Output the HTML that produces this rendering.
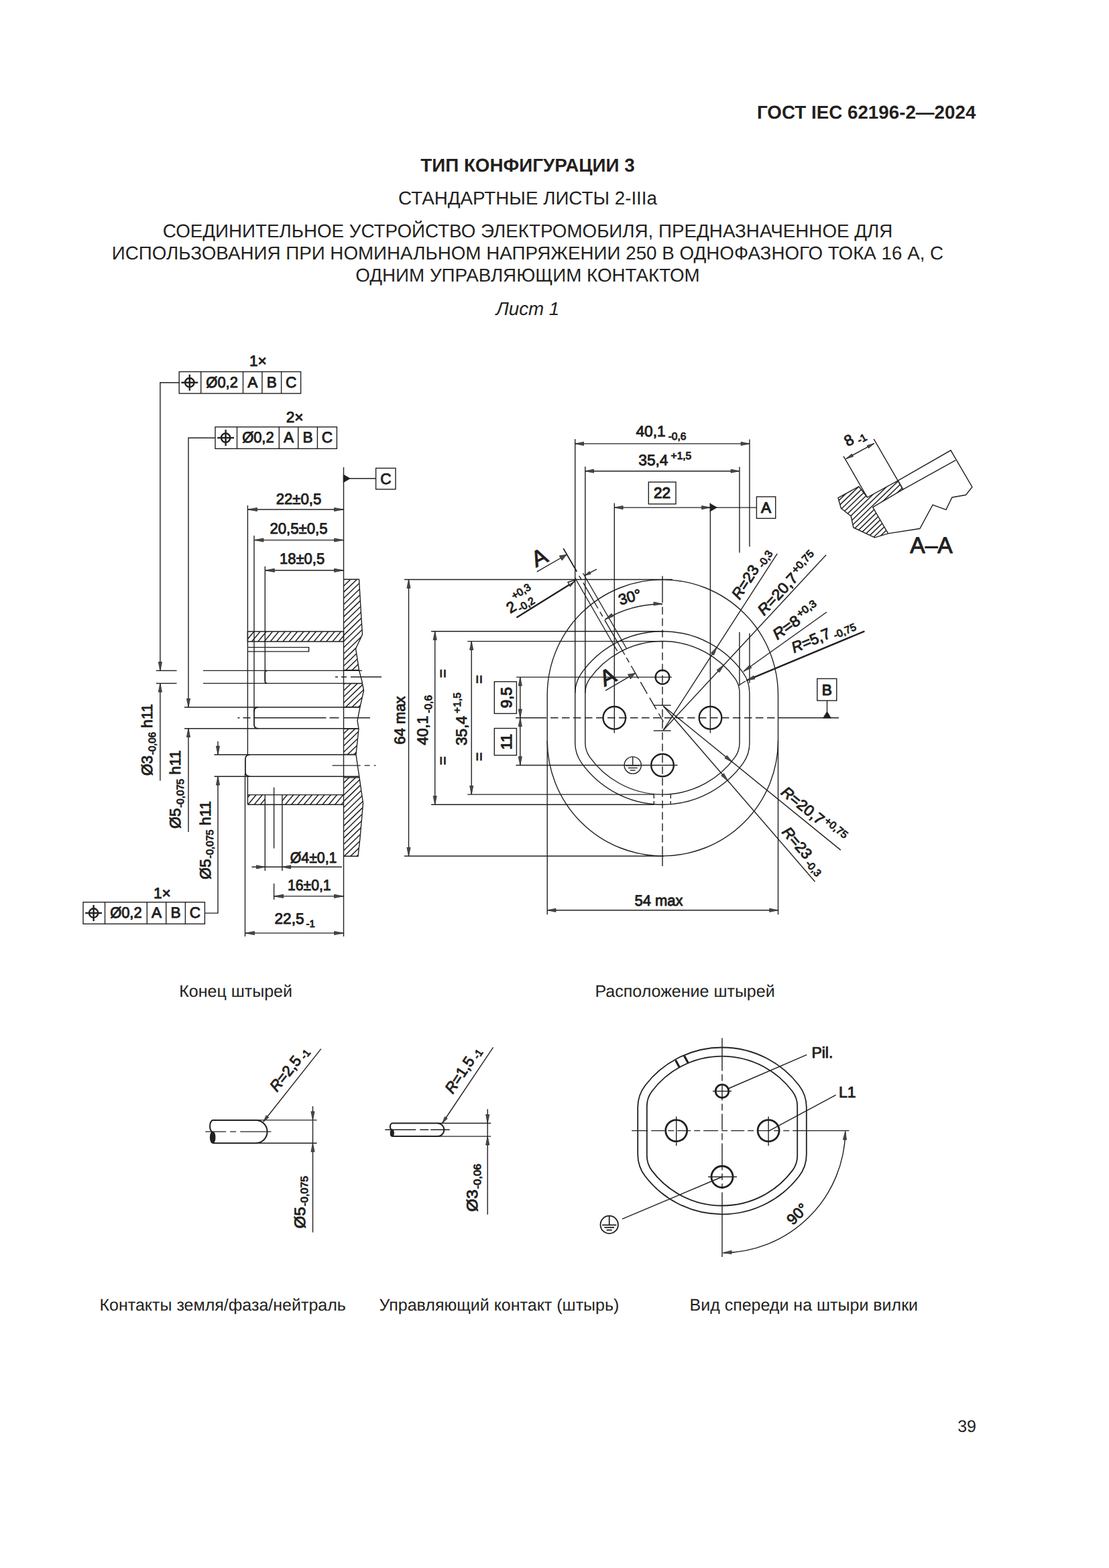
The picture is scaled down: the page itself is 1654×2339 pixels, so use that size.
<!DOCTYPE html>
<html lang="ru"><head><meta charset="utf-8"><title>ГОСТ IEC 62196-2—2024</title>
<style>
html,body{margin:0;padding:0;background:#fff}
svg{display:block}
text{font-family:"Liberation Sans","DejaVu Sans",sans-serif;fill:#231f20;white-space:pre;text-rendering:geometricPrecision}
.b{font-size:27.78px}
.bb{font-size:27.78px;font-weight:bold}
.bi{font-size:27.78px;font-style:italic}
.c{font-size:25px}
.d{font-size:22.6px;stroke:#231f20;stroke-width:.95px;stroke-linejoin:round}
.di{font-style:italic}
.A{stroke-width:1.1px}
.B{stroke-width:1.2px}
line,polyline,polygon,path,circle,rect,ellipse{fill:none;stroke:#231f20;stroke-width:1.4px}
.k{stroke-width:2.4px}
.kk{stroke-width:2.8px}
.p{stroke-width:2px}
.s3{stroke-width:3.2px}
.m{stroke-width:1.8px}
.h{stroke-width:1.5px}
.ah{fill:#4a4747;stroke:#231f20;stroke-width:.7px;stroke-linejoin:miter}
.fl{fill:#231f20}
.cl{stroke-dasharray:26 5 5 5}
.cs{stroke-dasharray:14 4 3 4}
.ds{stroke-dasharray:6 4}
</style></head>
<body>
<svg width="1654" height="2339" viewBox="0 0 1654 2339">
<text class="bb" text-anchor="end" x="1455.4" y="177">ГОСТ IEC 62196-2—2024</text>
<text class="bb" text-anchor="middle" x="787" y="256">ТИП КОНФИГУРАЦИИ 3</text>
<text class="b" text-anchor="middle" x="787" y="304.7">СТАНДАРТНЫЕ ЛИСТЫ 2-IIIa</text>
<text class="b" text-anchor="middle" x="787" y="353.5">СОЕДИНИТЕЛЬНОЕ УСТРОЙСТВО ЭЛЕКТРОМОБИЛЯ, ПРЕДНАЗНАЧЕННОЕ ДЛЯ</text>
<text class="b" text-anchor="middle" x="787" y="387">ИСПОЛЬЗОВАНИЯ ПРИ НОМИНАЛЬНОМ НАПРЯЖЕНИИ 250 В ОДНОФАЗНОГО ТОКА 16 А, С</text>
<text class="b" text-anchor="middle" x="787" y="420.1">ОДНИМ УПРАВЛЯЮЩИМ КОНТАКТОМ</text>
<text class="bi" text-anchor="middle" x="787" y="470">Лист 1</text>
<text class="c" x="267.3" y="1487.2">Конец штырей</text>
<text class="c" x="887.5" y="1487.2">Расположение штырей</text>
<text class="c" x="148.5" y="1954.7">Контакты земля/фаза/нейтраль</text>
<text class="c" x="565.5" y="1954.7">Управляющий контакт (штырь)</text>
<text class="c" x="1028.5" y="1954.7">Вид спереди на штыри вилки</text>
<text class="c" text-anchor="end" x="1456" y="2135.7">39</text>
<rect x="267.2" y="554.5" width="181.4" height="32.4"/>
<line x1="299.7" y1="554.5" x2="299.7" y2="586.9"/>
<line x1="362.5" y1="554.5" x2="362.5" y2="586.9"/>
<line x1="390.9" y1="554.5" x2="390.9" y2="586.9"/>
<line x1="419.6" y1="554.5" x2="419.6" y2="586.9"/>
<circle cx="282.8" cy="570.7" r="6.7" class="k"/>
<line x1="270.4" y1="570.7" x2="295.2" y2="570.7" class="k"/>
<line x1="282.8" y1="558.7" x2="282.8" y2="582.7" class="k"/>
<text class="d" text-anchor="middle" textLength="47.5" lengthAdjust="spacingAndGlyphs" x="331.1" y="577.5">Ø0,2</text>
<text class="d" text-anchor="middle" x="376.7" y="577.5">A</text>
<text class="d" text-anchor="middle" x="405.2" y="577.5">B</text>
<text class="d" text-anchor="middle" x="434.1" y="577.5">C</text>
<text class="d" text-anchor="middle" x="384.8" y="546.3">1×</text>
<rect x="321" y="636.9" width="181.4" height="32.4"/>
<line x1="353.5" y1="636.9" x2="353.5" y2="669.3"/>
<line x1="416.3" y1="636.9" x2="416.3" y2="669.3"/>
<line x1="444.7" y1="636.9" x2="444.7" y2="669.3"/>
<line x1="473.4" y1="636.9" x2="473.4" y2="669.3"/>
<circle cx="336.6" cy="653.1" r="6.7" class="k"/>
<line x1="324.2" y1="653.1" x2="349" y2="653.1" class="k"/>
<line x1="336.6" y1="641.1" x2="336.6" y2="665.1" class="k"/>
<text class="d" text-anchor="middle" textLength="47.5" lengthAdjust="spacingAndGlyphs" x="384.9" y="659.9">Ø0,2</text>
<text class="d" text-anchor="middle" x="430.5" y="659.9">A</text>
<text class="d" text-anchor="middle" x="459" y="659.9">B</text>
<text class="d" text-anchor="middle" x="487.9" y="659.9">C</text>
<text class="d" text-anchor="middle" x="439.6" y="630">2×</text>
<rect x="124" y="1345.8" width="181.4" height="32.4"/>
<line x1="156.5" y1="1345.8" x2="156.5" y2="1378.2"/>
<line x1="219.3" y1="1345.8" x2="219.3" y2="1378.2"/>
<line x1="247.7" y1="1345.8" x2="247.7" y2="1378.2"/>
<line x1="276.4" y1="1345.8" x2="276.4" y2="1378.2"/>
<circle cx="139.6" cy="1362" r="6.7" class="k"/>
<line x1="127.2" y1="1362" x2="152" y2="1362" class="k"/>
<line x1="139.6" y1="1350" x2="139.6" y2="1374" class="k"/>
<text class="d" text-anchor="middle" textLength="47.5" lengthAdjust="spacingAndGlyphs" x="187.9" y="1368.8">Ø0,2</text>
<text class="d" text-anchor="middle" x="233.5" y="1368.8">A</text>
<text class="d" text-anchor="middle" x="262.1" y="1368.8">B</text>
<text class="d" text-anchor="middle" x="290.9" y="1368.8">C</text>
<text class="d" text-anchor="middle" x="241.8" y="1339.5">1×</text>
<polyline points="267.2,570.7 238.9,570.7 238.9,1000.4"/>
<polygon points="238.9,1000.4 236.3,987.6 241.5,987.6" class="ah"/>
<line x1="238.9" y1="1019.4" x2="238.9" y2="1164.4"/>
<polygon points="238.9,1019.4 241.5,1032.2 236.3,1032.2" class="ah"/>
<line x1="232.8" y1="1000.4" x2="263.5" y2="1000.4"/>
<line x1="232.8" y1="1019.4" x2="263.5" y2="1019.4"/>
<polyline points="321,653.2 281,653.2 281,1055"/>
<polygon points="281,1055 278.4,1042.2 283.6,1042.2" class="ah"/>
<line x1="281" y1="1086.6" x2="281" y2="1241"/>
<polygon points="281,1086.6 283.6,1099.4 278.4,1099.4" class="ah"/>
<polyline points="305.4,1362.1 325,1362.1 325,1158.2"/>
<polygon points="325,1158.2 327.6,1171 322.4,1171" class="ah"/>
<line x1="325" y1="1106" x2="325" y2="1125.8"/>
<polygon points="325,1125.8 322.4,1113 327.6,1113" class="ah"/>
<line x1="512.5" y1="697" x2="512.5" y2="1397"/>
<polygon points="512.5,708.6 521.5,713.8 512.5,719" class="fl"/>
<line x1="521.5" y1="713.8" x2="560.6" y2="713.8"/>
<rect x="560.6" y="698.4" width="29.4" height="31.4"/>
<text class="d" text-anchor="middle" x="575.3" y="721.8">C</text>
<line x1="369.4" y1="754" x2="369.4" y2="1125.8"/>
<line x1="369.4" y1="1158.2" x2="369.4" y2="1200"/>
<line x1="379" y1="799" x2="379" y2="1062"/>
<line x1="395.3" y1="845" x2="395.3" y2="1016"/>
<line x1="369.4" y1="760" x2="512.5" y2="760"/>
<polygon points="369.4,760 383.4,757.4 383.4,762.6" class="ah"/>
<polygon points="512.5,760 498.5,762.6 498.5,757.4" class="ah"/>
<text class="d" text-anchor="middle" textLength="67.7" lengthAdjust="spacingAndGlyphs" x="445.5" y="751.7">22±0,5</text>
<line x1="379" y1="805.6" x2="512.5" y2="805.6"/>
<polygon points="379,805.6 393,803 393,808.2" class="ah"/>
<polygon points="512.5,805.6 498.5,808.2 498.5,803" class="ah"/>
<text class="d" text-anchor="middle" textLength="86.2" lengthAdjust="spacingAndGlyphs" x="445.5" y="795.7">20,5±0,5</text>
<line x1="395.3" y1="850.8" x2="512.5" y2="850.8"/>
<polygon points="395.3,850.8 409.3,848.2 409.3,853.4" class="ah"/>
<polygon points="512.5,850.8 498.5,853.4 498.5,848.2" class="ah"/>
<text class="d" text-anchor="middle" textLength="67.1" lengthAdjust="spacingAndGlyphs" x="450.6" y="841">18±0,5</text>
<clipPath id="w0"><path d="M512.5 864.3H535.5L538.4 913.7L540.5 946.3L530.6 967.5L535.5 999.6H512.5Z"/></clipPath>
<path d="M110.3 1244.3L716.8 658.6M114.9 1249L721.4 663.4M119.5 1253.8L725.9 668.1M124.1 1258.5L730.5 672.9M128.6 1263.3L735.1 677.6M133.2 1268L739.7 682.4M137.8 1272.8L744.3 687.1M142.4 1277.5L748.9 691.9M147 1282.3L753.4 696.6M151.6 1287L758 701.4M156.2 1291.8L762.6 706.1M160.7 1296.5L767.2 710.9M165.3 1301.3L771.8 715.6M169.9 1306L776.4 720.4M174.5 1310.8L781 725.1M179.1 1315.5L785.5 729.9M183.7 1320.3L790.1 734.6M188.2 1325L794.7 739.4M192.8 1329.8L799.3 744.1M197.4 1334.5L803.9 748.9M202 1339.3L808.5 753.6M206.6 1344L813 758.3M211.2 1348.7L817.6 763.1M215.8 1353.5L822.2 767.8M220.3 1358.2L826.8 772.6M224.9 1363L831.4 777.3M229.5 1367.7L836 782.1M234.1 1372.5L840.6 786.8M238.7 1377.2L845.1 791.6M243.3 1382L849.7 796.3M247.9 1386.7L854.3 801.1M252.4 1391.5L858.9 805.8M257 1396.2L863.5 810.6M261.6 1401L868.1 815.3M266.2 1405.7L872.7 820.1M270.8 1410.5L877.2 824.8M275.4 1415.2L881.8 829.6M279.9 1420L886.4 834.3M284.5 1424.7L891 839.1M289.1 1429.5L895.6 843.8M293.7 1434.2L900.2 848.6M298.3 1439L904.7 853.3M302.9 1443.7L909.3 858M307.5 1448.4L913.9 862.8M312 1453.2L918.5 867.5M316.6 1457.9L923.1 872.3M321.2 1462.7L927.7 877M325.8 1467.4L932.3 881.8M330.4 1472.2L936.8 886.5M335 1476.9L941.4 891.3M339.5 1481.7L946 896" class="h" clip-path="url(#w0)"/>
<clipPath id="w1"><path d="M512.5 1019.6H540.5L542.5 1030L537 1054.6H512.5Z"/></clipPath>
<path d="M110.3 1244.3L716.8 658.6M114.9 1249L721.4 663.4M119.5 1253.8L725.9 668.1M124.1 1258.5L730.5 672.9M128.6 1263.3L735.1 677.6M133.2 1268L739.7 682.4M137.8 1272.8L744.3 687.1M142.4 1277.5L748.9 691.9M147 1282.3L753.4 696.6M151.6 1287L758 701.4M156.2 1291.8L762.6 706.1M160.7 1296.5L767.2 710.9M165.3 1301.3L771.8 715.6M169.9 1306L776.4 720.4M174.5 1310.8L781 725.1M179.1 1315.5L785.5 729.9M183.7 1320.3L790.1 734.6M188.2 1325L794.7 739.4M192.8 1329.8L799.3 744.1M197.4 1334.5L803.9 748.9M202 1339.3L808.5 753.6M206.6 1344L813 758.3M211.2 1348.7L817.6 763.1M215.8 1353.5L822.2 767.8M220.3 1358.2L826.8 772.6M224.9 1363L831.4 777.3M229.5 1367.7L836 782.1M234.1 1372.5L840.6 786.8M238.7 1377.2L845.1 791.6M243.3 1382L849.7 796.3M247.9 1386.7L854.3 801.1M252.4 1391.5L858.9 805.8M257 1396.2L863.5 810.6M261.6 1401L868.1 815.3M266.2 1405.7L872.7 820.1M270.8 1410.5L877.2 824.8M275.4 1415.2L881.8 829.6M279.9 1420L886.4 834.3M284.5 1424.7L891 839.1M289.1 1429.5L895.6 843.8M293.7 1434.2L900.2 848.6M298.3 1439L904.7 853.3M302.9 1443.7L909.3 858M307.5 1448.4L913.9 862.8M312 1453.2L918.5 867.5M316.6 1457.9L923.1 872.3M321.2 1462.7L927.7 877M325.8 1467.4L932.3 881.8M330.4 1472.2L936.8 886.5M335 1476.9L941.4 891.3M339.5 1481.7L946 896" class="h" clip-path="url(#w1)"/>
<clipPath id="w2"><path d="M512.5 1087H535L531 1125.4H512.5Z"/></clipPath>
<path d="M110.3 1244.3L716.8 658.6M114.9 1249L721.4 663.4M119.5 1253.8L725.9 668.1M124.1 1258.5L730.5 672.9M128.6 1263.3L735.1 677.6M133.2 1268L739.7 682.4M137.8 1272.8L744.3 687.1M142.4 1277.5L748.9 691.9M147 1282.3L753.4 696.6M151.6 1287L758 701.4M156.2 1291.8L762.6 706.1M160.7 1296.5L767.2 710.9M165.3 1301.3L771.8 715.6M169.9 1306L776.4 720.4M174.5 1310.8L781 725.1M179.1 1315.5L785.5 729.9M183.7 1320.3L790.1 734.6M188.2 1325L794.7 739.4M192.8 1329.8L799.3 744.1M197.4 1334.5L803.9 748.9M202 1339.3L808.5 753.6M206.6 1344L813 758.3M211.2 1348.7L817.6 763.1M215.8 1353.5L822.2 767.8M220.3 1358.2L826.8 772.6M224.9 1363L831.4 777.3M229.5 1367.7L836 782.1M234.1 1372.5L840.6 786.8M238.7 1377.2L845.1 791.6M243.3 1382L849.7 796.3M247.9 1386.7L854.3 801.1M252.4 1391.5L858.9 805.8M257 1396.2L863.5 810.6M261.6 1401L868.1 815.3M266.2 1405.7L872.7 820.1M270.8 1410.5L877.2 824.8M275.4 1415.2L881.8 829.6M279.9 1420L886.4 834.3M284.5 1424.7L891 839.1M289.1 1429.5L895.6 843.8M293.7 1434.2L900.2 848.6M298.3 1439L904.7 853.3M302.9 1443.7L909.3 858M307.5 1448.4L913.9 862.8M312 1453.2L918.5 867.5M316.6 1457.9L923.1 872.3M321.2 1462.7L927.7 877M325.8 1467.4L932.3 881.8M330.4 1472.2L936.8 886.5M335 1476.9L941.4 891.3M339.5 1481.7L946 896" class="h" clip-path="url(#w2)"/>
<clipPath id="w3"><path d="M512.5 1159.9H536L541.5 1198L537 1250L534 1277.3H512.5Z"/></clipPath>
<path d="M110.3 1244.3L716.8 658.6M114.9 1249L721.4 663.4M119.5 1253.8L725.9 668.1M124.1 1258.5L730.5 672.9M128.6 1263.3L735.1 677.6M133.2 1268L739.7 682.4M137.8 1272.8L744.3 687.1M142.4 1277.5L748.9 691.9M147 1282.3L753.4 696.6M151.6 1287L758 701.4M156.2 1291.8L762.6 706.1M160.7 1296.5L767.2 710.9M165.3 1301.3L771.8 715.6M169.9 1306L776.4 720.4M174.5 1310.8L781 725.1M179.1 1315.5L785.5 729.9M183.7 1320.3L790.1 734.6M188.2 1325L794.7 739.4M192.8 1329.8L799.3 744.1M197.4 1334.5L803.9 748.9M202 1339.3L808.5 753.6M206.6 1344L813 758.3M211.2 1348.7L817.6 763.1M215.8 1353.5L822.2 767.8M220.3 1358.2L826.8 772.6M224.9 1363L831.4 777.3M229.5 1367.7L836 782.1M234.1 1372.5L840.6 786.8M238.7 1377.2L845.1 791.6M243.3 1382L849.7 796.3M247.9 1386.7L854.3 801.1M252.4 1391.5L858.9 805.8M257 1396.2L863.5 810.6M261.6 1401L868.1 815.3M266.2 1405.7L872.7 820.1M270.8 1410.5L877.2 824.8M275.4 1415.2L881.8 829.6M279.9 1420L886.4 834.3M284.5 1424.7L891 839.1M289.1 1429.5L895.6 843.8M293.7 1434.2L900.2 848.6M298.3 1439L904.7 853.3M302.9 1443.7L909.3 858M307.5 1448.4L913.9 862.8M312 1453.2L918.5 867.5M316.6 1457.9L923.1 872.3M321.2 1462.7L927.7 877M325.8 1467.4L932.3 881.8M330.4 1472.2L936.8 886.5M335 1476.9L941.4 891.3M339.5 1481.7L946 896" class="h" clip-path="url(#w3)"/>
<path d="M512.5 864.3H535.5L538.4 913.7L540.5 946.3L530.6 967.5L535.5 999.6L539.8 1016L540.5 1019.6L542.5 1030L537 1054.6L533 1075L535 1087L531 1125.4L533 1140L536 1159.9L541.5 1198L537 1250L534 1277.3H512.5"/>
<line x1="512.5" y1="999.6" x2="535.5" y2="999.6"/>
<line x1="512.5" y1="1019.6" x2="540.5" y2="1019.6"/>
<line x1="512.5" y1="1054.6" x2="537" y2="1054.6"/>
<line x1="512.5" y1="1087" x2="535" y2="1087"/>
<line x1="512.5" y1="1125.4" x2="531" y2="1125.4"/>
<line x1="512.5" y1="1159.9" x2="536" y2="1159.9"/>
<clipPath id="tb"><path d="M369.4 942H512.5V957H369.4Z"/></clipPath>
<path d="M296.9 1017.6L483 795.7M302.3 1022.1L488.4 800.3M307.8 1026.7L493.9 804.9M313.2 1031.3L499.3 809.4M318.6 1035.8L504.8 814M324.1 1040.4L510.2 818.6M329.5 1044.9L515.6 823.1M335 1049.5L521.1 827.7M340.4 1054.1L526.5 832.3M345.8 1058.6L532 836.8M351.3 1063.2L537.4 841.4M356.7 1067.8L542.8 846M362.1 1072.3L548.3 850.5M367.6 1076.9L553.7 855.1M373 1081.5L559.1 859.6M378.5 1086L564.6 864.2M383.9 1090.6L570 868.8M389.3 1095.1L575.5 873.3M394.8 1099.7L580.9 877.9" class="h" clip-path="url(#tb)"/>
<path d="M369.4 942H512.5V957H369.4Z"/>
<polyline points="369.4,965.6 460.6,965.6 460.6,971.9 369.4,971.9"/>
<path d="M303 1000.4H540M303 1019.4H541M540 1000.4"/>
<path d="M398.3 1000.4Q395.3 1000.4 395.3 1003.4V1016.4Q395.3 1019.4 398.3 1019.4" class="m"/>
<line x1="500" y1="1009.8" x2="569" y2="1009.8" stroke-dasharray="4 5 8 6 60"/>
<path d="M275 1055H537M275 1086.7H535"/>
<path d="M385 1055Q379 1055 379 1061V1080.7Q379 1086.7 385 1086.7" class="m"/>
<line x1="354.5" y1="1070.8" x2="552" y2="1070.8" stroke-dasharray="3 5 11 5 108 5 14 7 60"/>
<path d="M319.5 1125.8H531M319.5 1158.2H536"/>
<path d="M372.5 1125.8Q365.9 1125.8 365.9 1132.4V1151.6Q365.9 1158.2 372.5 1158.2" class="m"/>
<line x1="495.6" y1="1141.9" x2="564.5" y2="1141.9" stroke-dasharray="42 6 8 6 3 6"/>
<clipPath id="bb1"><path d="M369.4 1185.6H395.3V1200.2H369.4Z"/></clipPath>
<path d="M347.6 1204.7L387.9 1156.6M353 1209.2L393.4 1161.1M358.5 1213.8L398.8 1165.7M363.9 1218.4L404.2 1170.3M369.3 1222.9L409.7 1174.8M374.8 1227.5L415.1 1179.4" class="h" clip-path="url(#bb1)"/>
<clipPath id="bb2"><path d="M420.9 1185.6H512.5V1200.2H420.9Z"/></clipPath>
<path d="M374.4 1238.9L495.7 1094.4M379.9 1243.5L501.2 1098.9M385.3 1248.1L506.6 1103.5M390.7 1252.6L512.1 1108M396.2 1257.2L517.5 1112.6M401.6 1261.8L522.9 1117.2M407.1 1266.3L528.4 1121.7M412.5 1270.9L533.8 1126.3M417.9 1275.4L539.3 1130.9M423.4 1280L544.7 1135.4M428.8 1284.6L550.1 1140M434.3 1289.1L555.6 1144.6M439.7 1293.7L561 1149.1" class="h" clip-path="url(#bb2)"/>
<path d="M369.4 1185.6H512.5M369.4 1200.2H512.5"/>
<line x1="395.3" y1="1185.6" x2="395.3" y2="1299"/>
<line x1="420.9" y1="1185.6" x2="420.9" y2="1299"/>
<line x1="408.6" y1="1174.6" x2="408.6" y2="1265.5"/>
<line x1="365.5" y1="1154" x2="365.5" y2="1397"/>
<line x1="375.4" y1="1293.3" x2="509.9" y2="1293.3"/>
<polygon points="395.3,1293.3 382.5,1295.9 382.5,1290.7" class="ah"/>
<polygon points="420.9,1293.3 433.7,1290.7 433.7,1295.9" class="ah"/>
<text class="d" text-anchor="middle" textLength="69.7" lengthAdjust="spacingAndGlyphs" x="467.6" y="1286.5">Ø4±0,1</text>
<line x1="408.6" y1="1318" x2="408.6" y2="1342"/>
<line x1="408.6" y1="1336.9" x2="512.5" y2="1336.9"/>
<polygon points="408.6,1336.9 422.6,1334.3 422.6,1339.5" class="ah"/>
<polygon points="512.5,1336.9 498.5,1339.5 498.5,1334.3" class="ah"/>
<text class="d" text-anchor="middle" textLength="64.6" lengthAdjust="spacingAndGlyphs" x="461.3" y="1327.8">16±0,1</text>
<line x1="365.5" y1="1391.9" x2="512.5" y2="1391.9"/>
<polygon points="365.5,1391.9 379.5,1389.3 379.5,1394.5" class="ah"/>
<polygon points="512.5,1391.9 498.5,1394.5 498.5,1389.3" class="ah"/>
<text class="d" x="409.5" y="1378.3">22,5<tspan font-size="15" dy="5" dx="3">-1</tspan></text>
<text class="d" textLength="107" lengthAdjust="spacingAndGlyphs" transform="translate(227.1 1157) rotate(-90)">Ø3<tspan font-size="15" dy="4.5" dx="1">-0,06</tspan><tspan dy="-4.5"> h11</tspan></text>
<text class="d" textLength="117" lengthAdjust="spacingAndGlyphs" transform="translate(269 1236.1) rotate(-90)">Ø5<tspan font-size="15" dy="4.5" dx="1">-0,075</tspan><tspan dy="-4.5"> h11</tspan></text>
<text class="d" textLength="117" lengthAdjust="spacingAndGlyphs" transform="translate(313.9 1311.8) rotate(-90)">Ø5<tspan font-size="15" dy="4.5" dx="1">-0,075</tspan><tspan dy="-4.5"> h11</tspan></text>
<path d="M816.2 1036.7A172.1 172.1 0 0 1 1160.5 1036.7V1104.8A172.1 172.1 0 0 1 816.2 1104.8Z"/>
<path d="M867.2 1004.1A148.1 148.1 0 0 1 1108.2 1003.3A51.5 51.5 0 0 1 1117.9 1033.4L1117.9 1108.5A51.5 51.5 0 0 1 1108.2 1138.6A148.1 148.1 0 0 1 867.2 1137.8A51.5 51.5 0 0 1 857.7 1108L857.7 1033.9A51.5 51.5 0 0 1 867.2 1004.1Z"/>
<path d="M879.6 1012.3A133.2 133.2 0 0 1 1096.1 1011.9A36.7 36.7 0 0 1 1103 1033.4L1103 1108.2A36.7 36.7 0 0 1 1096.1 1129.7A133.2 133.2 0 0 1 879.6 1129.3A36.7 36.7 0 0 1 872.8 1107.9L872.8 1033.7A36.7 36.7 0 0 1 879.6 1012.3Z"/>
<circle cx="916.3" cy="1070.8" r="16.8" class="k"/>
<circle cx="1059.5" cy="1070.8" r="16.8" class="k"/>
<circle cx="988" cy="1141.5" r="16.8" class="k"/>
<circle cx="988" cy="1010.1" r="10.4" class="k"/>
<circle cx="943.7" cy="1141.5" r="12.6"/>
<line x1="943.7" y1="1128.9" x2="943.7" y2="1142"/>
<line x1="933.6" y1="1142" x2="953.8" y2="1142"/>
<line x1="936.8" y1="1145.5" x2="950.6" y2="1145.5"/>
<line x1="939.9" y1="1149.1" x2="947.5" y2="1149.1"/>
<line x1="769" y1="1070.8" x2="1251" y2="1070.8" stroke-dasharray="46 6 11.5 5.5 11.5 5.5 11.5 5.5 11.5 5.5 11.5 5.5 11.5 5.5 11.5 5.5 11.5 5.5 11.5 5.5 11.5 5.5 11.5 5.5 11.5 5.5 11.5 5.5 11.5 5.5 11.5 5.5 11.5 5.5 11.5 5.5 11.5 5.5 11.5 5.5 11.5 5.5 200"/>
<line x1="988" y1="859.2" x2="988" y2="1292" stroke-dasharray="40 6 11.5 5.5 11.5 5.5 11.5 5.5 11.5 5.5 11.5 5.5 11.5 5.5 11.5 5.5 11.5 5.5 11.5 5.5 11.5 5.5 11.5 5.5 11.5 5.5 11.5 5.5 11.5 5.5 11.5 5.5 11.5 5.5 11.5 5.5 11.5 5.5 11.5 5.5 11.5 5.5 11.5 5.5 200"/>
<line x1="974.8" y1="1052.1" x2="1000.6" y2="1052.1"/>
<line x1="974.8" y1="1090" x2="1000.6" y2="1090"/>
<line x1="603" y1="864.5" x2="1003" y2="864.5"/>
<line x1="603" y1="1277" x2="990" y2="1277"/>
<line x1="643.1" y1="941.8" x2="990" y2="941.8"/>
<line x1="643.1" y1="1200.3" x2="975.3" y2="1200.3"/>
<line x1="697.2" y1="956.6" x2="990" y2="956.6"/>
<line x1="697.2" y1="1185.1" x2="975.3" y2="1185.1"/>
<line x1="770" y1="1010.1" x2="1002" y2="1010.1"/>
<line x1="769.4" y1="1141.5" x2="1010.5" y2="1141.5"/>
<line x1="975.3" y1="1185.1" x2="975.3" y2="1200.3" class="ds"/>
<line x1="1000.3" y1="1185.1" x2="1000.3" y2="1200.3" class="ds"/>
<line x1="857.7" y1="655" x2="857.7" y2="1034"/>
<line x1="872.8" y1="696" x2="872.8" y2="1034"/>
<line x1="916.3" y1="750.5" x2="916.3" y2="1093.4"/>
<line x1="1059.4" y1="750.5" x2="1059.4" y2="1093.4"/>
<line x1="1117.9" y1="655.4" x2="1117.9" y2="815.5"/>
<line x1="1117.9" y1="944.8" x2="1117.9" y2="1019"/>
<line x1="1102.9" y1="696.5" x2="1102.9" y2="824.5"/>
<line x1="1102.9" y1="942.9" x2="1102.9" y2="1023"/>
<line x1="816.2" y1="1105" x2="816.2" y2="1364.2"/>
<line x1="1160.5" y1="1105" x2="1160.5" y2="1364.2"/>
<line x1="857.7" y1="661.9" x2="1117.9" y2="661.9"/>
<polygon points="857.7,661.9 870.5,659.3 870.5,664.5" class="ah"/>
<polygon points="1117.9,661.9 1105.1,664.5 1105.1,659.3" class="ah"/>
<text class="d" textLength="75" lengthAdjust="spacingAndGlyphs" x="948.5" y="650.8">40,1<tspan font-size="15.5" dy="5.5" dx="4">-0,6</tspan></text>
<line x1="872.8" y1="702.7" x2="1102.9" y2="702.7"/>
<polygon points="872.8,702.7 885.6,700.1 885.6,705.3" class="ah"/>
<polygon points="1102.9,702.7 1090.1,705.3 1090.1,700.1" class="ah"/>
<text class="d" textLength="79" lengthAdjust="spacingAndGlyphs" x="952.3" y="693.9">35,4<tspan font-size="15.5" dy="-8.6" dx="4">+1,5</tspan></text>
<rect x="967.3" y="719.1" width="40.7" height="32.7"/>
<text class="d B" text-anchor="middle" x="987.6" y="743.4">22</text>
<line x1="916.3" y1="757.1" x2="1059.4" y2="757.1"/>
<polygon points="916.3,757.1 929.1,754.5 929.1,759.7" class="ah"/>
<polygon points="1059.4,757.1 1046.6,759.7 1046.6,754.5" class="ah"/>
<polygon points="1059.4,751.8 1068.6,757.1 1059.4,762.4" class="fl"/>
<line x1="1068" y1="757.1" x2="1128.4" y2="757.1"/>
<rect x="1128.4" y="741" width="28.3" height="32.3"/>
<text class="d B" text-anchor="middle" x="1142.5" y="764.6">A</text>
<line x1="609.5" y1="864.5" x2="609.5" y2="1277"/>
<polygon points="609.5,864.5 612.1,877.3 606.9,877.3" class="ah"/>
<polygon points="609.5,1277 606.9,1264.2 612.1,1264.2" class="ah"/>
<text class="d" textLength="72.1" lengthAdjust="spacingAndGlyphs" transform="translate(603.6 1110.5) rotate(-90)">64 max</text>
<line x1="648.7" y1="941.8" x2="648.7" y2="1200.3"/>
<polygon points="648.7,941.8 651.3,954.6 646.1,954.6" class="ah"/>
<polygon points="648.7,1200.3 646.1,1187.5 651.3,1187.5" class="ah"/>
<text class="d" textLength="74.5" lengthAdjust="spacingAndGlyphs" transform="translate(638.1 1111.5) rotate(-90)">40,1<tspan font-size="15.5" dy="5.5" dx="4">-0,6</tspan></text>
<line x1="703.2" y1="956.6" x2="703.2" y2="1185.1"/>
<polygon points="703.2,956.6 705.8,969.4 700.6,969.4" class="ah"/>
<polygon points="703.2,1185.1 700.6,1172.3 705.8,1172.3" class="ah"/>
<text class="d" textLength="79" lengthAdjust="spacingAndGlyphs" transform="translate(695.8 1112.1) rotate(-90)">35,4<tspan font-size="15.5" dy="-8.6" dx="4">+1,5</tspan></text>
<text class="d" text-anchor="middle" transform="translate(668 1004.7) rotate(-90)">=</text>
<text class="d" text-anchor="middle" transform="translate(668 1134.6) rotate(-90)">=</text>
<text class="d" text-anchor="middle" transform="translate(722 1013.3) rotate(-90)">=</text>
<text class="d" text-anchor="middle" transform="translate(722 1128.6) rotate(-90)">=</text>
<line x1="775.8" y1="1010.1" x2="775.8" y2="1141.5"/>
<polygon points="775.8,1010.1 778.4,1022.9 773.2,1022.9" class="ah"/>
<polygon points="775.8,1070.8 773.2,1058 778.4,1058" class="ah"/>
<polygon points="775.8,1070.8 778.4,1083.6 773.2,1083.6" class="ah"/>
<polygon points="775.8,1141.5 773.2,1128.7 778.4,1128.7" class="ah"/>
<rect x="737.3" y="1016.8" width="33.1" height="47.6"/>
<text class="d B" text-anchor="middle" transform="translate(763.4 1040.6) rotate(-90)">9,5</text>
<rect x="737.3" y="1086.5" width="33.1" height="40.1"/>
<text class="d B" text-anchor="middle" transform="translate(763.4 1106.5) rotate(-90)">11</text>
<line x1="816.2" y1="1357.8" x2="1160.5" y2="1357.8"/>
<polygon points="816.2,1357.8 829,1355.2 829,1360.4" class="ah"/>
<polygon points="1160.5,1357.8 1147.7,1360.4 1147.7,1355.2" class="ah"/>
<text class="d" text-anchor="middle" textLength="72.1" lengthAdjust="spacingAndGlyphs" x="982.5" y="1351.4">54 max</text>
<line x1="989.3" y1="1089.2" x2="1159.2" y2="825.8"/>
<polygon points="1069.8,964.4 1064.7,977.2 1060.3,974.3" class="ah"/>
<text class="d" text-anchor="end" textLength="86" lengthAdjust="spacingAndGlyphs" transform="translate(1149.6 823.2) rotate(-57.2)"><tspan class="di">R</tspan>=23<tspan font-size="15.5" dy="4" dx="4">-0,3</tspan></text>
<line x1="989.3" y1="1089.2" x2="1232.1" y2="827.7"/>
<polygon points="1080.2,991.3 1072.9,1003 1069.1,999.4" class="ah"/>
<text class="d" text-anchor="end" textLength="119" lengthAdjust="spacingAndGlyphs" transform="translate(1220.6 832) rotate(-47.1)"><tspan class="di">R</tspan>=20,7<tspan font-size="15.5" dy="-8" dx="2">+0,75</tspan></text>
<line x1="989.3" y1="1053.2" x2="1253.9" y2="1268.1"/>
<polygon points="1093,1137.4 1080.9,1130.9 1084.2,1126.9" class="ah"/>
<text class="d" text-anchor="end" textLength="117" lengthAdjust="spacingAndGlyphs" transform="translate(1254.3 1257.8) rotate(39.1)"><tspan class="di">R</tspan>=20,7<tspan font-size="15.5" dy="-8" dx="2">+0,75</tspan></text>
<line x1="989.3" y1="1053.2" x2="1215.5" y2="1315.2"/>
<polygon points="1086.3,1165.6 1075.6,1157.1 1079.5,1153.7" class="ah"/>
<text class="d" text-anchor="end" textLength="85" lengthAdjust="spacingAndGlyphs" transform="translate(1220.9 1306.2) rotate(49.2)"><tspan class="di">R</tspan>=23<tspan font-size="15.5" dy="4" dx="4">-0,3</tspan></text>
<line x1="1233" y1="913" x2="1109" y2="1001.5"/>
<polygon points="1109,1001.5 1117.9,991.9 1120.9,996.2" class="ah"/>
<text class="d" text-anchor="end" textLength="79" lengthAdjust="spacingAndGlyphs" transform="translate(1223.5 909.2) rotate(324.5)"><tspan class="di">R</tspan>=8<tspan font-size="15.5" dy="-8" dx="2">+0,3</tspan></text>
<line x1="1289.4" y1="941.6" x2="1113.2" y2="1015.2" class="k"/>
<polygon points="1113.2,1015.2 1124,1007.9 1126,1012.7" class="ah"/>
<line x1="1103" y1="1021.5" x2="1112" y2="1016"/>
<text class="d" text-anchor="end" textLength="100" lengthAdjust="spacingAndGlyphs" transform="translate(1276.6 935.6) rotate(337.3)"><tspan class="di">R</tspan>=5,7<tspan font-size="15.5" dy="4" dx="4">-0,75</tspan></text>
<rect x="1218.8" y="1012.4" width="29" height="32.7"/>
<text class="d B" text-anchor="middle" x="1233.3" y="1036.5">B</text>
<line x1="1233.5" y1="1045.1" x2="1233.5" y2="1062.5"/>
<polygon points="1228.2,1070.8 1233.5,1062 1238.8,1070.8" class="fl"/>
<line x1="840.2" y1="818.1" x2="860.3" y2="852.8" class="m"/>
<line x1="863.8" y1="859" x2="989.4" y2="1076.5" stroke-dasharray="6 6 44 6 8 6 60 5 8 6 22 6 20 7 20 7 60"/>
<line x1="857.3" y1="861.5" x2="920.5" y2="971"/>
<line x1="869.5" y1="855" x2="934.5" y2="967.5"/>
<line x1="800.8" y1="852.8" x2="844.9" y2="827.5"/>
<polygon points="844.9,827.5 838.2,836 834.2,829" class="ah"/>
<text class="d A" style="font-size:33px" transform="translate(799.5 846.5) rotate(-26)">A</text>
<line x1="903" y1="1030.2" x2="947.1" y2="1004.4"/>
<polygon points="947.1,1004.4 940.4,1012.9 936.4,1005.9" class="ah"/>
<text class="d A" style="font-size:33px" transform="translate(901.5 1024.5) rotate(-26)">A</text>
<line x1="770.4" y1="921.2" x2="849.5" y2="872.1" class="k"/>
<line x1="849.5" y1="872.1" x2="857.8" y2="867.2"/>
<polygon points="858.5,864.8 847,868.5 850.5,874.5" fill="#fff"/>
<line x1="872.1" y1="858.4" x2="889.9" y2="849.1"/>
<polygon points="872.1,858.4 879.1,852.3 881.1,856.2" class="ah"/>
<text class="d" transform="translate(761 915.5) rotate(-31)">2</text>
<text class="d" transform="translate(766.7 894.6) rotate(-31)"><tspan font-size="15.5" dy="0">+0,3</tspan></text>
<text class="d" transform="translate(776 912.9) rotate(-31)"><tspan font-size="15.5" dy="0">-0,2</tspan></text>
<path d="M902.3 924.2A169.8 169.8 0 0 1 988 901"/>
<polygon points="988,901 974.9,903.1 975.1,897.9" class="ah"/>
<polygon points="902.3,924.2 912,915.1 914.7,919.5" class="ah"/>
<text class="d" transform="translate(925 902.8) rotate(-16)">30°</text>
<clipPath id="sa"><path d="M1250 742.7L1281 725.7L1293.5 742L1339.4 716.8L1346.7 730.1L1301.7 756.7L1324.6 795.9L1304.6 801.8L1272.9 787L1269.2 770L1254.4 758.2Z"/></clipPath>
<path d="M1152.9 801L1345.5 615M1157 805.2L1349.6 619.2M1161 809.4L1353.6 623.4M1165 813.5L1357.6 627.5M1169.1 817.7L1361.7 631.7M1173.1 821.9L1365.7 635.9M1177.1 826L1369.7 640.1M1181.2 830.2L1373.7 644.2M1185.2 834.4L1377.8 648.4M1189.2 838.6L1381.8 652.6M1193.2 842.7L1385.8 656.7M1197.3 846.9L1389.9 660.9M1201.3 851.1L1393.9 665.1M1205.3 855.2L1397.9 669.3M1209.4 859.4L1401.9 673.4M1213.4 863.6L1406 677.6M1217.4 867.8L1410 681.8M1221.4 871.9L1414 685.9M1225.5 876.1L1418.1 690.1M1229.5 880.3L1422.1 694.3M1233.5 884.4L1426.1 698.5M1237.6 888.6L1430.2 702.6M1241.6 892.8L1434.2 706.8M1245.6 897L1438.2 711M1249.6 901.1L1442.2 715.2" class="h" clip-path="url(#sa)"/>
<path d="M1250 742.7L1281 725.7L1293.5 742L1339.4 716.8L1346.7 730.1L1301.7 756.7L1324.6 795.9L1304.6 801.8L1272.9 787L1269.2 770L1254.4 758.2Z" stroke-linejoin="round"/>
<polyline points="1339.4,716.8 1418,671.8 1449.9,726.5 1440.6,738.3 1419.9,742 1411,760.4 1391.1,753.1 1371.9,788.5 1324.6,795.9"/>
<line x1="1346.7" y1="730.1" x2="1425.1" y2="686.6"/>
<line x1="1258.1" y1="680.6" x2="1293.5" y2="742"/>
<line x1="1303.2" y1="654.8" x2="1346.7" y2="730.1"/>
<line x1="1261.8" y1="684.3" x2="1303.9" y2="661.4"/>
<polygon points="1261.8,684.3 1270.4,677 1272.6,681.1" class="ah"/>
<polygon points="1303.9,661.4 1295.3,668.7 1293.1,664.6" class="ah"/>
<text class="d" transform="translate(1264.3 666.6) rotate(-28.5)">8<tspan font-size="15.5" dy="4.5" dx="5">-1</tspan></text>
<text class="d A" style="font-size:34px" text-anchor="middle" textLength="63.5" lengthAdjust="spacingAndGlyphs" x="1389" y="825.3">A–A</text>
<line x1="381.4" y1="1670.9" x2="472.6" y2="1670.9"/>
<line x1="381.4" y1="1705.3" x2="472.6" y2="1705.3"/>
<path d="M316 1688.1C312 1685.1 312 1673.9 317 1670.9H381.4A17.2 17.2 0 0 1 381.4 1705.3H317.5" class="p"/>
<ellipse cx="317.2" cy="1696.7" rx="3.6" ry="8.6" class="fl"/>
<line x1="306.2" y1="1688.1" x2="404.4" y2="1688.1" stroke-dasharray="31 6 9 6 60"/>
<line x1="466.5" y1="1650.2" x2="466.5" y2="1670.9"/>
<polygon points="466.5,1670.9 463.9,1658.1 469.1,1658.1" class="ah"/>
<line x1="466.5" y1="1705.3" x2="466.5" y2="1838.4"/>
<polygon points="466.5,1705.3 469.1,1718.1 463.9,1718.1" class="ah"/>
<line x1="466.5" y1="1670.9" x2="466.5" y2="1705.3"/>
<text class="d" textLength="78.5" lengthAdjust="spacingAndGlyphs" transform="translate(454.5 1832.5) rotate(-90)">Ø5<tspan font-size="15" dy="4.5" dx="1">-0,075</tspan></text>
<line x1="478.8" y1="1564.6" x2="392.8" y2="1673.2"/>
<polygon points="392.8,1673.2 397.1,1663.9 400.9,1666.9" class="ah"/>
<text class="d" text-anchor="end" textLength="78" lengthAdjust="spacingAndGlyphs" transform="translate(461.5 1568.7) rotate(308.4)"><tspan class="di">R</tspan>=2,5<tspan font-size="15.5" dy="3" dx="4">-1</tspan></text>
<line x1="652.5" y1="1675.5" x2="732.2" y2="1675.5"/>
<line x1="652.5" y1="1695.1" x2="732.2" y2="1695.1"/>
<path d="M584 1685.3C581 1683.3 581 1677.5 584.6 1675.5H652.5A9.8 9.8 0 0 1 652.5 1695.1H585" class="p"/>
<ellipse cx="584.8" cy="1690.2" rx="2.4" ry="4.9" class="fl"/>
<line x1="574.2" y1="1685.3" x2="670.7" y2="1685.3" stroke-dasharray="46 6 13 3 60"/>
<line x1="727.2" y1="1654.5" x2="727.2" y2="1675.5"/>
<polygon points="727.2,1675.5 724.6,1662.7 729.8,1662.7" class="ah"/>
<line x1="727.2" y1="1695.1" x2="727.2" y2="1811.8"/>
<polygon points="727.2,1695.1 729.8,1707.9 724.6,1707.9" class="ah"/>
<line x1="727.2" y1="1675.5" x2="727.2" y2="1695.1"/>
<text class="d" textLength="71.5" lengthAdjust="spacingAndGlyphs" transform="translate(712.2 1807.5) rotate(-90)">Ø3<tspan font-size="15" dy="4.5" dx="1">-0,06</tspan></text>
<line x1="735.5" y1="1562.4" x2="659.7" y2="1675.5"/>
<polygon points="659.7,1675.5 663.3,1665.9 667.3,1668.5" class="ah"/>
<text class="d" text-anchor="end" textLength="78" lengthAdjust="spacingAndGlyphs" transform="translate(718.6 1567.9) rotate(303.8)"><tspan class="di">R</tspan>=1,5<tspan font-size="15.5" dy="3" dx="4">-1</tspan></text>
<path d="M962.4 1619A144.5 144.5 0 0 1 1191.6 1619A54 54 0 0 1 1202.8 1651.9L1202.8 1721.9A54 54 0 0 1 1191.6 1754.8A144.5 144.5 0 0 1 962.4 1754.8A54 54 0 0 1 951.2 1721.9L951.2 1651.9A54 54 0 0 1 962.4 1619Z" class="m"/>
<path d="M972.2 1628A131 131 0 0 1 1181.8 1628A37 37 0 0 1 1189.2 1650.2L1189.2 1723.9A37 37 0 0 1 1181.8 1746.1A131 131 0 0 1 972.2 1746.1A37 37 0 0 1 964.8 1723.9L964.8 1650.2A37 37 0 0 1 972.2 1628Z" class="m"/>
<circle cx="1008.7" cy="1686.6" r="16" class="kk"/>
<circle cx="1146.1" cy="1686.6" r="16" class="kk"/>
<circle cx="1077" cy="1755.5" r="16" class="kk"/>
<circle cx="1077" cy="1627.7" r="9.8" class="kk"/>
<line x1="1008.7" y1="1665.4" x2="1008.7" y2="1709.3"/>
<line x1="1146.1" y1="1665.4" x2="1146.1" y2="1709.3"/>
<line x1="1056" y1="1755.5" x2="1099" y2="1755.5"/>
<line x1="1063" y1="1627.7" x2="1091" y2="1627.7"/>
<line x1="942.2" y1="1686.6" x2="1266.5" y2="1686.6" stroke-dasharray="24 5 20 5 9 5 20 5 9 5 22 5 9 5 20 5 9 5 20 5 9 5 9 5 200"/>
<line x1="1077" y1="1548.4" x2="1077" y2="1875" stroke-dasharray="49 5 10 5 24 5 10 5 24 5 10 5 40 5 10 5 8 5 200"/>
<line x1="1007.6" y1="1581.6" x2="1013.1" y2="1591.7" class="s3"/>
<line x1="1020.5" y1="1575.1" x2="1026.1" y2="1585.3" class="s3"/>
<line x1="1086" y1="1624" x2="1203.3" y2="1573.3"/>
<text class="d" style="font-size:23px" x="1210.4" y="1578.4">Pil.</text>
<line x1="1147.5" y1="1686.6" x2="1246.7" y2="1633.4"/>
<text class="d" style="font-size:23px" x="1250.9" y="1637">L1</text>
<line x1="1077" y1="1755.5" x2="928" y2="1818.4"/>
<circle cx="908.7" cy="1826.9" r="13.2" class="m"/>
<line x1="908.7" y1="1813.7" x2="908.7" y2="1827.4" class="m"/>
<line x1="898.1" y1="1827.4" x2="919.3" y2="1827.4" class="m"/>
<line x1="901.4" y1="1831.1" x2="916" y2="1831.1" class="m"/>
<line x1="904.7" y1="1834.8" x2="912.7" y2="1834.8" class="m"/>
<path d="M1260.8 1688.6A183.8 183.8 0 0 1 1079 1868.9"/>
<polygon points="1260.8,1687.1 1262.5,1700.2 1257.3,1699.9" class="ah"/>
<polygon points="1078,1868.9 1090.8,1865.4 1091.1,1870.6" class="ah"/>
<text class="d" transform="translate(1182.5 1828.5) rotate(-45)">90°</text>
</svg>
</body></html>
